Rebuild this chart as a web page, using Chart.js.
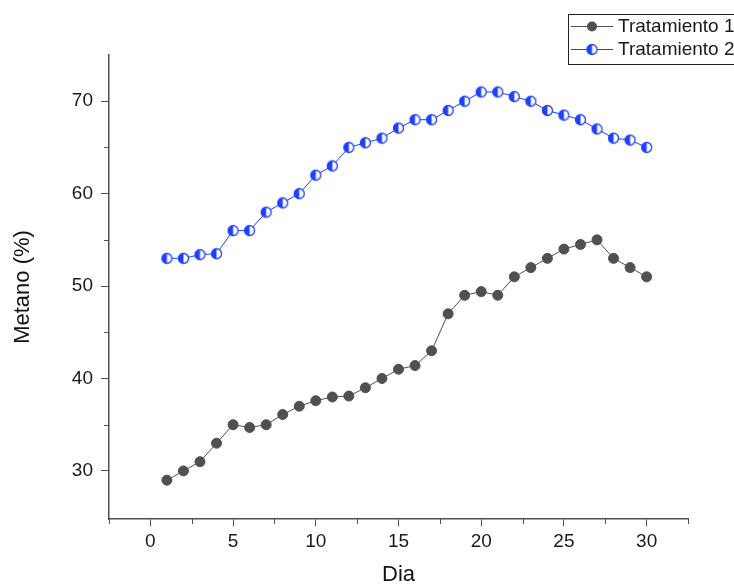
<!DOCTYPE html>
<html>
<head>
<meta charset="utf-8">
<script src="https://cdn.jsdelivr.net/npm/chart.js@4.4.0/dist/chart.umd.min.js"></script>
<style>
  html, body { margin: 0; padding: 0; background: #fff; }
  #wrap { width: 734px; height: 588px; overflow: hidden; }
</style>
</head>
<body>
<div id="wrap"><canvas id="chart" width="734" height="588"></canvas></div>
<script>
// Data
const dias = [1, 2, 3, 4, 5, 6, 7, 8, 9, 10, 11, 12, 13, 14, 15,
              16, 17, 18, 19, 20, 21, 22, 23, 24, 25, 26, 27, 28, 29, 30];
const tratamiento1 = [29, 30, 31, 33, 35, 34.7, 35, 36.1, 37, 37.6, 38, 38.1, 39, 40, 41,
                      41.4, 43, 47, 49, 49.4, 49, 51, 52, 53, 54, 54.5, 55, 53, 52, 51];
const tratamiento2 = [53, 53, 53.4, 53.5, 56, 56, 58, 59, 60, 62, 63, 65, 65.5, 66, 67.1,
                      68, 68, 69, 70, 71, 71, 70.5, 70, 69, 68.5, 68, 67, 66, 65.8, 65];
const seriesNames = ['Tratamiento 1', 'Tratamiento 2'];

// Tick labels
const xTickLabels = [0, 5, 10, 15, 20, 25, 30];
const yTickLabels = [30, 40, 50, 60, 70];
const xMinorTicks = [-2.5, 2.5, 7.5, 12.5, 17.5, 22.5, 27.5, 32.5];
const yMinorTicks = [35, 45, 55, 65];

const FONT = 'Arial, "Liberation Sans", sans-serif';
const axisColor = '#505050';
const grayColor = '#505050';
const blueColor = '#2040ff';

// half-filled circle marker for Tratamiento 2
function halfCircle(r) {
  const c = document.createElement('canvas');
  const s = r * 2 + 3;
  c.width = s; c.height = s;
  const g = c.getContext('2d');
  const cx = s / 2, cy = s / 2;
  g.fillStyle = '#fff';
  g.beginPath(); g.arc(cx, cy, r, 0, Math.PI * 2); g.fill();
  g.fillStyle = blueColor;
  g.beginPath(); g.arc(cx, cy, r, Math.PI / 2, Math.PI * 1.5); g.closePath(); g.fill();
  g.strokeStyle = blueColor; g.lineWidth = 1.3;
  g.beginPath(); g.arc(cx, cy, r, 0, Math.PI * 2); g.stroke();
  return c;
}
const halfMarker = halfCircle(5);

// short minor ticks between the labelled ones
const minorTicksPlugin = {
  id: 'minorTicks',
  afterDraw(chart) {
    const ctx = chart.ctx;
    const xs = chart.scales.x, ys = chart.scales.y;
    const area = chart.chartArea;
    ctx.save();
    ctx.strokeStyle = axisColor;
    ctx.lineWidth = 1;
    ctx.beginPath();
    xMinorTicks.forEach(v => {
      const px = Math.round(xs.getPixelForValue(v)) + 0.5;
      ctx.moveTo(px, area.bottom);
      ctx.lineTo(px, area.bottom + 5);
    });
    yMinorTicks.forEach(v => {
      const py = Math.round(ys.getPixelForValue(v)) + 0.5;
      ctx.moveTo(area.left, py);
      ctx.lineTo(area.left - 5, py);
    });
    ctx.stroke();
    ctx.restore();
  }
};

// boxed legend in the top right corner (runs off the right edge like the original)
const boxLegendPlugin = {
  id: 'boxLegend',
  afterDraw(chart) {
    const ctx = chart.ctx;
    ctx.save();
    ctx.strokeStyle = '#222';
    ctx.lineWidth = 1;
    ctx.strokeRect(568.5, 14.5, 200, 50);
    const rows = [26, 49];
    chart.data.datasets.forEach((ds, i) => {
      const y = rows[i];
      ctx.strokeStyle = ds.borderColor;
      ctx.lineWidth = 1;
      ctx.beginPath();
      ctx.moveTo(571, y + 0.5);
      ctx.lineTo(613, y + 0.5);
      ctx.stroke();
      if (i === 0) {
        ctx.fillStyle = ds.pointBackgroundColor;
        ctx.beginPath();
        ctx.arc(592, y + 0.5, 5, 0, Math.PI * 2);
        ctx.fill();
      } else {
        ctx.drawImage(halfMarker, 592 - halfMarker.width / 2, y + 0.5 - halfMarker.height / 2);
      }
      ctx.fillStyle = '#1a1a1a';
      ctx.font = '19px ' + FONT;
      ctx.textBaseline = 'middle';
      ctx.textAlign = 'left';
      ctx.fillText(ds.label, 618, y + 1);
    });
    ctx.restore();
  }
};

const ctx = document.getElementById('chart').getContext('2d');
new Chart(ctx, {
  type: 'line',
  data: {
    datasets: [
      {
        label: seriesNames[0],
        data: dias.map((d, i) => ({ x: d, y: tratamiento1[i] })),
        borderColor: grayColor,
        borderWidth: 1,
        pointStyle: 'circle',
        pointRadius: 5,
        pointBackgroundColor: grayColor,
        pointBorderColor: grayColor,
        pointBorderWidth: 1,
        tension: 0
      },
      {
        label: seriesNames[1],
        data: dias.map((d, i) => ({ x: d, y: tratamiento2[i] })),
        borderColor: blueColor,
        borderWidth: 1,
        pointStyle: halfMarker,
        pointRadius: 5,
        pointBackgroundColor: blueColor,
        pointBorderColor: blueColor,
        tension: 0
      }
    ]
  },
  options: {
    responsive: false,
    animation: false,
    events: [],
    layout: { padding: { left: 0, top: 55, right: 46, bottom: 0 } },
    plugins: {
      legend: { display: false },
      tooltip: { enabled: false }
    },
    scales: {
      x: {
        type: 'linear',
        min: -2.5,
        max: 32.5,
        afterBuildTicks: s => { s.ticks = xTickLabels.map(v => ({ value: v })); },
        afterFit: s => { s.height = 69; },
        grid: { drawOnChartArea: false, drawTicks: true, tickLength: 7, tickColor: axisColor, tickWidth: 1 },
        border: { display: true, color: axisColor, width: 1.5 },
        ticks: { color: '#1a1a1a', font: { family: FONT, size: 19 }, padding: 4, maxRotation: 0 },
        title: { display: true, text: 'Dia', color: '#111', font: { family: FONT, size: 22 }, padding: { top: 0, bottom: 0 } }
      },
      y: {
        type: 'linear',
        min: 24.8,
        max: 75,
        afterBuildTicks: s => { s.ticks = yTickLabels.map(v => ({ value: v })); },
        afterFit: s => { s.width = 109; },
        grid: { drawOnChartArea: false, drawTicks: true, tickLength: 8, tickColor: axisColor, tickWidth: 1 },
        border: { display: true, color: axisColor, width: 1.5 },
        ticks: { color: '#1a1a1a', font: { family: FONT, size: 19 }, padding: 8 },
        title: { display: true, text: 'Metano (%)', color: '#111', font: { family: FONT, size: 22 }, padding: { top: 10, bottom: 0 } }
      }
    }
  },
  plugins: [minorTicksPlugin, boxLegendPlugin]
});
</script>
</body>
</html>
